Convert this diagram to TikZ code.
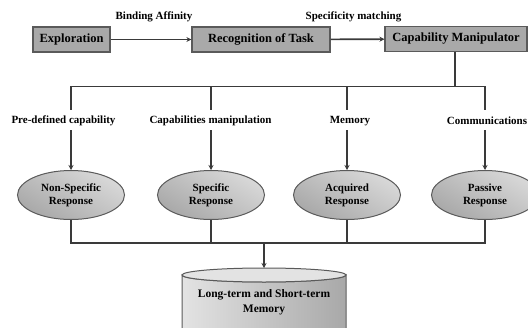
\documentclass[tikz,border=0pt]{standalone}
\usepackage{fontspec}
\setmainfont{Liberation Serif}
\usetikzlibrary{shapes.geometric,arrows.meta}
\definecolor{linec}{HTML}{3A3A3A}
\definecolor{boxf}{HTML}{A9A9A9}
\definecolor{boxd}{HTML}{5A5A5A}
\tikzset{
  procbox/.style={draw=boxd,line width=1.2pt,fill=boxf,minimum height=25pt,inner sep=1pt,font=\fontsize{12.5}{14}\selectfont\bfseries},
  lbl/.style={font=\fontsize{11}{13}\selectfont\bfseries,inner sep=1pt},
  resp/.style={ellipse,draw=boxd,line width=1pt,top color=gray!30,bottom color=gray!68,shading angle=-30,minimum width=107pt,minimum height=49pt,inner sep=0pt,align=center,font=\fontsize{11}{13}\selectfont\bfseries},
  conn/.style={draw=linec,line width=1.6pt},
  arr/.style={conn,-{Stealth[length=5pt,width=5pt]}}
}
\begin{document}
\begin{tikzpicture}[x=1pt,y=-1pt]
\useasboundingbox (0,0) rectangle (528,327);
\clip (0,0) rectangle (528,327);
% top row
\node[procbox,minimum width=77pt] (expl) at (71.5,39.5) {Exploration};
\node[procbox,minimum width=138pt] (reco) at (261,39.5) {Recognition of Task};
\node[procbox,minimum width=142pt] (capm) at (456,39) {Capability Manipulator};
\node[lbl] (ba) at (154,17) {Binding Affinity};
\node[lbl] (sm) at (353.5,17) {Specificity matching};
\draw[arr] (expl) -- (reco);
\draw[arr] (reco) -- (capm);
% bus
\coordinate (bus) at (455,86.5);
\coordinate (b1) at (71,86.5);
\coordinate (b2) at (211,86.5);
\coordinate (b3) at (347,86.5);
\coordinate (b4) at (485,86.5);
\draw[conn] (capm.south -| bus) -- (bus);
\draw[conn,line cap=rect] (b1) -- (b4);
\coordinate (v1) at (71,110);
\coordinate (v2) at (211,110);
\coordinate (v3) at (347,110);
\coordinate (v4) at (485,110);
\draw[conn] (b1) -- (v1);
\draw[conn] (b2) -- (v2);
\draw[conn] (b3) -- (v3);
\draw[conn] (b4) -- (v4);
% labels
\node[lbl] (l1) at (63.5,121) {Pre-defined capability};
\node[lbl] (l2) at (210.5,121) {Capabilities manipulation};
\node[lbl] (l3) at (350,121) {Memory};
\node[lbl] (l4) at (487,121) {Communications};
% ellipses
\node[resp] (e1) at (71,195) {Non-Specific\\Response};
\node[resp] (e2) at (211,195) {Specific\\Response};
\node[resp] (e3) at (347,195) {Acquired\\Response};
\node[resp] (e4) at (485,195) {Passive\\Response};
\coordinate (a1) at (71,130);
\coordinate (a2) at (211,130);
\coordinate (a3) at (347,130);
\coordinate (a4) at (485,130);
\draw[arr] (a1) -- (e1);
\draw[arr] (a2) -- (e2);
\draw[arr] (a3) -- (e3);
\draw[arr] (a4) -- (e4);
% lower bus
\coordinate (c1) at (71,243);
\coordinate (c4) at (485,243);
\coordinate (cm) at (264,243);
\draw[conn] (e1.south) -- (c1);
\draw[conn] (e2.south) -- (e2.south |- c1);
\draw[conn] (e3.south) -- (e3.south |- c1);
\draw[conn] (e4.south) -- (c4);
\draw[conn,line cap=rect] (c1) -- (c4);
% cylinder
\shade[left color=gray!22,right color=gray!68,draw=boxd,line width=1pt]
  (182,275) -- (182,345) arc[start angle=180,end angle=360,x radius=82,y radius=7] -- (346,275)
  arc[start angle=0,end angle=180,x radius=82,y radius=7] -- cycle;
\draw[draw=boxd,line width=1pt,fill=gray!22] (264,275) ellipse[x radius=82,y radius=7];
\node[lbl,align=center,font=\fontsize{11.5}{15}\selectfont\bfseries] (mem) at (264,302) {Long-term and Short-term\\Memory};
\coordinate (memtop) at (264,268);
\draw[arr] (cm) -- (memtop);
\end{tikzpicture}
\end{document}
